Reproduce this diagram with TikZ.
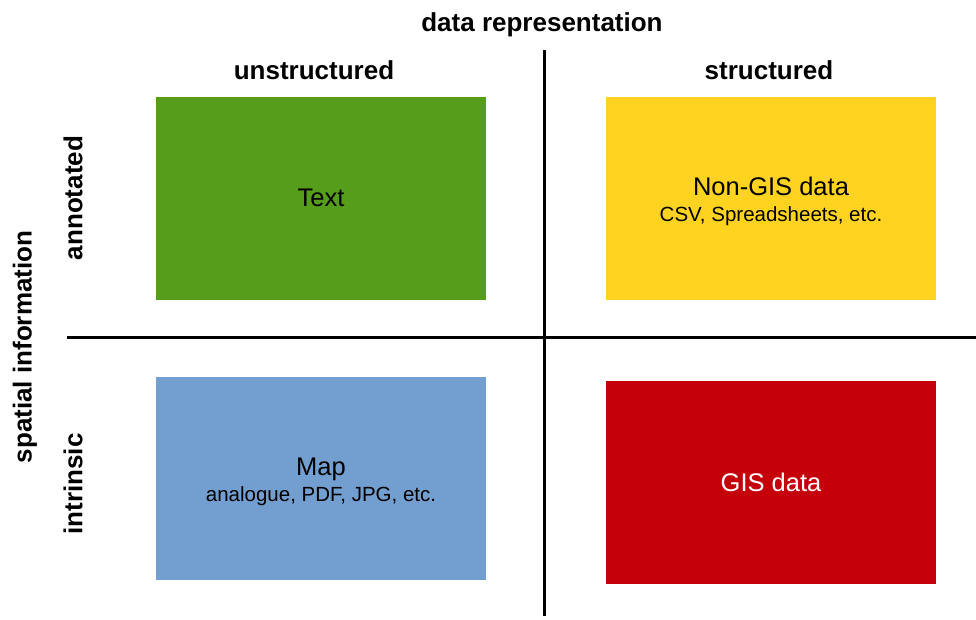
\documentclass[tikz,border=0pt]{standalone}
\usepackage{fontspec}
\setmainfont{Liberation Sans}

\definecolor{qgreen}{HTML}{579D1C}
\definecolor{qyellow}{HTML}{FFD320}
\definecolor{qblue}{HTML}{729FCF}
\definecolor{qred}{HTML}{C5000B}

\begin{document}
\begin{tikzpicture}[x=1pt,y=-1pt,
  quadbox/.style={minimum width=330pt,minimum height=203pt,inner sep=0pt,align=center,
    font=\fontsize{25.5}{29}\selectfont},
  axislabel/.style={font=\bfseries\fontsize{26}{30}\selectfont,inner sep=0pt},
  axisline/.style={line width=3pt}]

\useasboundingbox (0,0) rectangle (976,619);

\node[quadbox,fill=qgreen] (text) at (321,198) {Text};
\node[quadbox,fill=qyellow] (nongis) at (771,198) {};
\node[align=center,font=\fontsize{25.5}{29}\selectfont] (nongislbl) at (771,201) {Non-GIS data\\[-3pt]{\fontsize{20.5}{24}\selectfont CSV, Spreadsheets, etc.}};
\node[quadbox,fill=qblue] (map) at (321,478) {};
\node[align=center,font=\fontsize{25.5}{29}\selectfont] (maplbl) at (321,482) {Map\\[-3pt]{\fontsize{20.5}{24}\selectfont analogue, PDF, JPG, etc.}};
\node[quadbox,fill=qred,text=white] (gis) at (771,482) {GIS data};

\coordinate (vtop) at (544,50);
\coordinate (vbot) at (544,616);
\coordinate (hleft) at (67,337);
\coordinate (hright) at (976,337);

\draw[axisline] (vtop) -- (vbot);
\draw[axisline] (hleft) -- (hright);

\node[axislabel] (datarep) at (542,25) {data representation};
\node[axislabel] (unstr) at (314,70) {unstructured};
\node[axislabel] (str) at (769,70) {structured};

\node[axislabel,rotate=90] (spatial) at (25,347) {spatial information};
\node[axislabel,rotate=90] (annot) at (73,198) {annotated};
\node[axislabel,rotate=90] (intr) at (73,484) {intrinsic};

\end{tikzpicture}
\end{document}
